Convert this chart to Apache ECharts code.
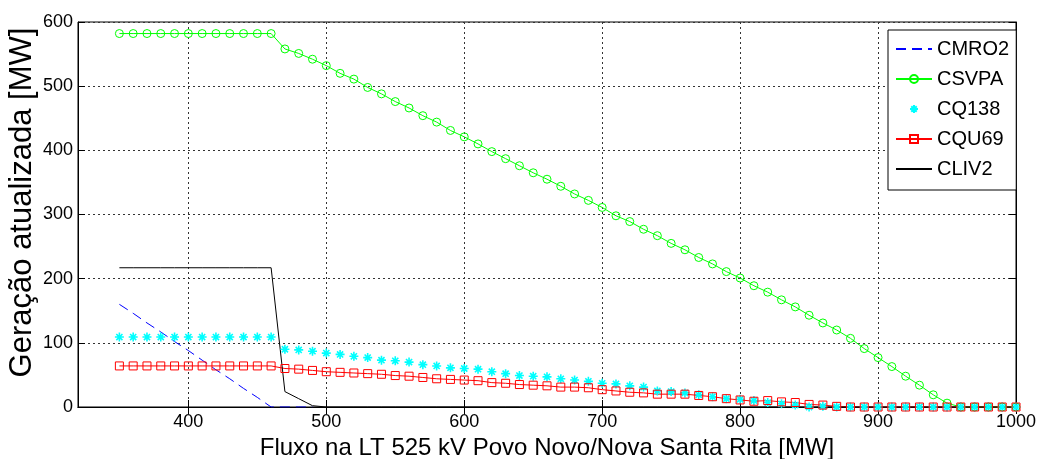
<!DOCTYPE html>
<html>
<head>
<meta charset="utf-8">
<script src="https://cdn.jsdelivr.net/npm/echarts@6/dist/echarts.min.js"></script>
<style>
    html, body { margin: 0; padding: 0; background: #fff; }
    #chart { width: 1043px; height: 459px; }
</style>
</head>
<body>
<div id="chart"></div>
<script>
// fluxo na LT (eixo x), passo de 10 MW
const fluxo = []
for (let v = 350; v <= 1000; v += 10) fluxo.push(v)

const xTicks = [400, 500, 600, 700, 800, 900, 1000]
const yTicks = [0, 100, 200, 300, 400, 500, 600]

// geração atualizada [MW] por usina
const cmro2 = [160, 146, 131, 117, 102, 88, 73, 58, 44, 29, 15, 0, 0, 0, 0]
const csvpa = [
    582, 582, 582, 582, 582, 582, 582, 582, 582, 582, 582, 582,
    558, 551, 542, 532, 520, 511, 498, 488, 476, 466, 454, 444, 431, 421,
    410, 398, 387, 376, 365, 355, 344, 332, 322, 311, 298, 289, 277, 267,
    255, 245, 233, 223, 211, 201, 189, 179, 167, 156, 143, 131, 120, 107,
    91, 77, 63, 48, 34, 19, 6, 0, 0, 0, 0, 0
]
const cq138 = [
    109, 109, 109, 109, 109, 109, 109, 109, 109, 109, 109, 109,
    90, 89, 87, 84, 82, 79, 77, 73, 72, 70, 66, 64, 61, 60,
    59, 55, 52, 49, 48, 47, 44, 42, 40, 37, 36, 33, 31, 25,
    24, 22, 19, 16, 13, 12, 10, 7, 5, 3, 0, 1, 0, 0,
    0, 0, 0, 0, 0, 0, 0, 0, 0, 0, 0, 0
]
const cqu69 = [
    64, 64, 64, 64, 64, 64, 64, 64, 64, 64, 64, 64,
    60, 59, 57, 55, 54, 53, 52, 51, 49, 48, 46, 44, 43, 42,
    41, 38, 37, 35, 34, 33, 31, 31, 30, 27, 25, 23, 22, 20,
    20, 20, 18, 16, 13, 11, 9, 10, 8, 7, 4, 3, 1, 0,
    0, 0, 0, 0, 0, 0, 0, 0, 0, 0, 0, 0
]
const cliv2 = [
    217, 217, 217, 217, 217, 217, 217, 217, 217, 217, 217, 217,
    24, 13, 2, 0, 0, 0, 0, 0, 0, 0, 0, 0, 0, 0,
    0, 0, 0, 0, 0, 0, 0, 0, 0, 0, 0, 0, 0, 0,
    0, 0, 0, 0, 0, 0, 0, 0, 0, 0, 0, 0, 0, 0,
    0, 0, 0, 0, 0, 0, 0, 0, 0, 0, 0, 0
]

const pares = vals => vals.map((v, i) => [fluxo[i], v])

const FONT = '"Liberation Sans", Arial, sans-serif'
const STAR = 'path://M5 0L5 10M0 5L10 5M1.6 1.6L8.4 8.4M8.4 1.6L1.6 8.4'

const chart = echarts.init(document.getElementById('chart'), null, { renderer: 'canvas' })

const gridLine = { show: true, lineStyle: { color: '#333', width: 1, type: [2, 3] } }
const tickIn = { show: true, inside: true, length: 7, lineStyle: { color: '#000' } }

const option = {
    backgroundColor: '#fff',
    animation: false,
    textStyle: { fontFamily: FONT },
    grid: {
        left: 78,
        right: 27,
        top: 22,
        bottom: 52,
        outerBoundsMode: 'none',
        containLabel: false,
        show: true,
        borderColor: '#000',
        borderWidth: 1
    },
    legend: {
        orient: 'vertical',
        left: 888,
        top: 30,
        itemWidth: 36,
        itemHeight: 10,
        itemGap: 10,
        padding: [9, 7, 11, 7],
        backgroundColor: '#fff',
        borderColor: '#000',
        borderWidth: 1,
        borderRadius: 0,
        textStyle: { fontSize: 20, color: '#000', fontFamily: FONT },
        data: [
            { name: 'CMRO2', itemStyle: { opacity: 0 } },
            'CSVPA',
            'CQ138',
            'CQU69',
            { name: 'CLIV2', itemStyle: { opacity: 0 } }
        ]
    },
    xAxis: [
        {
            type: 'value',
            min: 320,
            max: 1000,
            name: 'Fluxo na LT 525 kV Povo Novo/Nova Santa Rita [MW]',
            nameLocation: 'middle',
            nameGap: 23,
            nameTextStyle: { fontSize: 24, color: '#000', fontFamily: FONT },
            axisLine: { show: true, lineStyle: { color: '#000' } },
            axisTick: Object.assign({ customValues: xTicks }, tickIn),
            axisLabel: {
                customValues: xTicks,
                fontSize: 18,
                color: '#000',
                margin: 6,
                formatter: v => String(v)
            },
            splitLine: gridLine
        },
        {
            type: 'value',
            position: 'top',
            min: 320,
            max: 1000,
            axisLine: { show: true, lineStyle: { color: '#000' } },
            axisTick: Object.assign({ customValues: xTicks }, tickIn),
            axisLabel: { show: false, customValues: xTicks },
            splitLine: { show: false }
        }
    ],
    yAxis: [
        {
            type: 'value',
            min: yTicks[0],
            max: yTicks[yTicks.length - 1],
            interval: 100,
            name: 'Geração atualizada [MW]',
            nameLocation: 'middle',
            nameGap: 40,
            nameMoveOverlap: false,
            nameTextStyle: { fontSize: 31, color: '#000', fontFamily: FONT, padding: [0, 0, 0, 24] },
            axisLine: { show: true, lineStyle: { color: '#000' } },
            axisTick: tickIn,
            axisLabel: { fontSize: 18, color: '#000', margin: 5 },
            splitLine: gridLine
        },
        {
            type: 'value',
            position: 'right',
            min: yTicks[0],
            max: yTicks[yTicks.length - 1],
            interval: 100,
            axisLine: { show: true, lineStyle: { color: '#000' } },
            axisTick: tickIn,
            axisLabel: { show: false },
            splitLine: { show: false }
        }
    ],
    series: [
        {
            name: 'CMRO2',
            type: 'line',
            data: pares(cmro2),
            showSymbol: false,
            symbol: 'none',
            color: '#0000ff',
            lineStyle: { color: '#0000ff', width: 1, type: [10, 6] }
        },
        {
            name: 'CSVPA',
            type: 'line',
            data: pares(csvpa),
            symbol: 'circle',
            symbolSize: 8,
            color: '#00ff00',
            itemStyle: { color: 'rgba(0,0,0,0)', borderColor: '#00ff00', borderWidth: 1 },
            lineStyle: { color: '#00ff00', width: 1 }
        },
        {
            name: 'CQ138',
            type: 'line',
            data: pares(cq138),
            symbol: STAR,
            symbolSize: 9,
            color: '#00ffff',
            itemStyle: { color: 'rgba(0,0,0,0)', borderColor: '#00ffff', borderWidth: 1.6 },
            lineStyle: { width: 0, opacity: 0 }
        },
        {
            name: 'CQU69',
            type: 'line',
            data: pares(cqu69),
            symbol: 'rect',
            symbolSize: 8,
            color: '#ff0000',
            itemStyle: { color: 'rgba(0,0,0,0)', borderColor: '#ff0000', borderWidth: 1 },
            lineStyle: { color: '#ff0000', width: 1 }
        },
        {
            name: 'CLIV2',
            type: 'line',
            data: pares(cliv2),
            showSymbol: false,
            symbol: 'none',
            color: '#000',
            lineStyle: { color: '#000', width: 1 }
        }
    ]
}
chart.setOption(option)
</script>
</body>
</html>
